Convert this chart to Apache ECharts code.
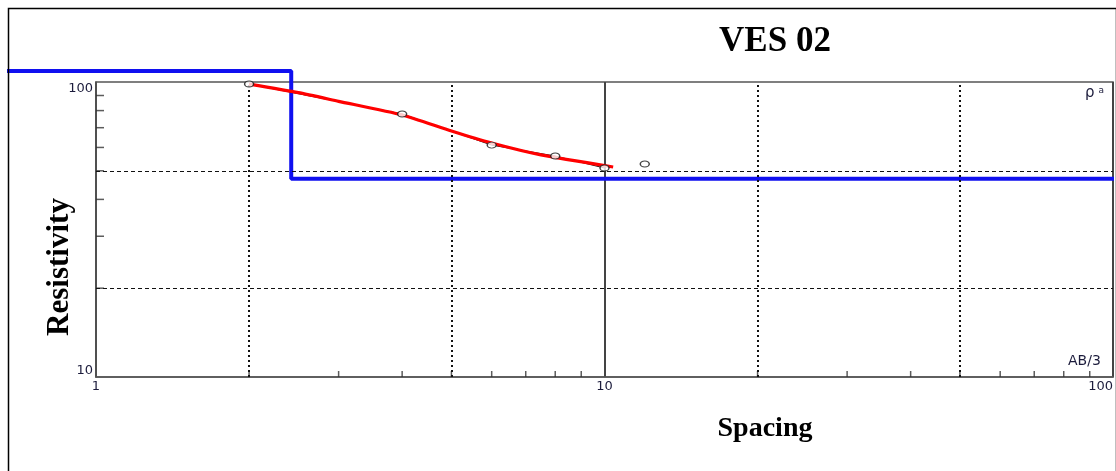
<!DOCTYPE html>
<html>
<head>
<meta charset="utf-8">
<script src="https://cdn.jsdelivr.net/npm/echarts@6/dist/echarts.min.js"></script>
<style>
html,body{margin:0;padding:0;background:#fff;}
#chart{width:1116px;height:471px;}
</style>
</head>
<body>
<div id="chart"></div>
<script>
// ---- data ----
const xMinorTicks = [2,3,4,5,6,7,8,9,20,30,40,50,60,70,80,90];
const yMinorTicks = [20,30,40,50,60,70,80,90];
const xDottedGrid = [2,5,20,50];
const yDashedGrid = [20,50];
const measuredX = [2,4,6,8,10,12];
const measuredY = [98.4,77.9,61.1,56.1,51.1,52.7];
const measuredLineCount = 5; // points joined by the thin black line
const modelX = [2.0,2.5,3.0,4.0,5.0,6.0,7.5,10.4];
const modelY = [98.4,92.0,86.0,77.3,68.2,62.1,56.6,51.5];
const layerX = [0.668,2.42,2.42,100.5];
const layerY = [109,109,47,47];

const zip = (a,b)=>a.map((v,i)=>[v,b[i]]);

const chart = echarts.init(document.getElementById('chart'), null, {renderer:'canvas'});
const labelFont = {fontFamily:'DejaVu Sans', fontSize:13, color:'#1c1c3c'};

chart.setOption({
  animation:false,
  backgroundColor:'#fff',
  grid:[
    {left:96, top:82, right:3, bottom:94, show:true, borderColor:'#555', borderWidth:1.5},
    // overlay grid spanning the whole frame, same log scale, for the layer model line
    {left:7, top:82, right:2, bottom:94, show:false}
  ],
  xAxis:[{
    type:'log', logBase:10, min:1, max:100, gridIndex:0,
    axisLine:{show:true, lineStyle:{color:'#555', width:1.5}},
    axisTick:{show:false},
    axisLabel:Object.assign({margin:3, alignMaxLabel:'right', formatter:v=>String(v)}, labelFont),
    splitLine:{show:true, lineStyle:{color:'#444', width:2, type:'solid'}}
  },{
    type:'log', logBase:10, min:layerX[0], max:layerX[layerX.length-1], gridIndex:1, show:false,
    splitLine:{show:false}
  }],
  yAxis:[{
    type:'log', logBase:10, min:10, max:100, gridIndex:0,
    axisLine:{show:true, lineStyle:{color:'#555', width:1.5}},
    axisTick:{show:false},
    axisLabel:Object.assign({margin:3, verticalAlignMaxLabel:'top', verticalAlignMinLabel:'bottom', formatter:v=>String(v)}, labelFont),
    splitLine:{show:false}
  },{
    type:'log', logBase:10, min:10, max:100, gridIndex:1, show:false,
    splitLine:{show:false}
  }],
  series:[
    {
      type:'line', data:[], silent:true,
      markLine:{
        silent:true, symbol:'none', label:{show:false}, animation:false,
        data:[
          ...xDottedGrid.map(v=>({xAxis:v, lineStyle:{type:[2,3], color:'#111', width:2}})),
          ...yDashedGrid.map(v=>({yAxis:v, lineStyle:{type:[4,3], color:'#111', width:1}}))
        ]
      }
    },
    {
      type:'scatter', silent:true, clip:false,
      data:xMinorTicks.map(v=>[v,10]),
      symbol:'rect', symbolSize:[1.5,6], symbolOffset:[0,-3],
      itemStyle:{color:'#333'}
    },
    {
      type:'scatter', silent:true, clip:false,
      data:yMinorTicks.map(v=>[1,v]),
      symbol:'rect', symbolSize:[8,1.5], symbolOffset:[4,0],
      itemStyle:{color:'#333'}
    },
    {
      type:'line', silent:true, clip:false, xAxisIndex:1, yAxisIndex:1,
      data:zip(layerX,layerY),
      symbol:'none',
      lineStyle:{color:'#1010f0', width:4},
      z:3
    },
    {
      type:'line', silent:true,
      data:zip(measuredX,measuredY).slice(0,measuredLineCount),
      symbol:'none',
      lineStyle:{color:'#111', width:1},
      z:4
    },
    {
      type:'line', silent:true,
      data:zip(modelX,modelY),
      symbol:'none', smooth:0.2,
      lineStyle:{color:'#ff0000', width:3.2},
      z:5
    },
    {
      type:'scatter', silent:true, clip:false,
      data:zip(measuredX,measuredY),
      symbol:'circle', symbolSize:[9,6],
      itemStyle:{color:'#fff', borderColor:'#111', borderWidth:1.2},
      z:6
    }
  ],
  graphic:[
    {type:'rect', left:6, top:6, shape:{width:1108, height:470}, style:{fill:'none', stroke:'#000', lineWidth:1.5}, z:100, silent:true},
    {type:'text', x:775, y:42, style:{text:'VES 02', fontFamily:'Liberation Serif', fontWeight:'bold', fontSize:35, fill:'#000', align:'center', verticalAlign:'middle'}, z:100},
    {type:'text', x:765, y:429, style:{text:'Spacing', fontFamily:'Liberation Serif', fontWeight:'bold', fontSize:28, fill:'#000', align:'center', verticalAlign:'middle'}, z:100},
    {type:'text', x:60, y:267, rotation:Math.PI/2, style:{text:'Resistivity', fontFamily:'Liberation Serif', fontWeight:'bold', fontSize:31, fill:'#000', align:'center', verticalAlign:'middle'}, z:100},
    {type:'text', left:1085, top:86, style:{text:'{p|ρ}{a|a}', rich:{p:{fontFamily:'DejaVu Sans', fontSize:15, fill:'#1c1c3c'}, a:{fontFamily:'DejaVu Sans', fontSize:9, fill:'#1c1c3c', verticalAlign:'top', padding:[0,0,6,4]}}}, z:100},
    {type:'text', left:1068, top:354, style:{text:'AB/3', fontFamily:'DejaVu Sans', fontSize:14, fill:'#1c1c3c'}, z:100}
  ]
});
</script>
</body>
</html>
